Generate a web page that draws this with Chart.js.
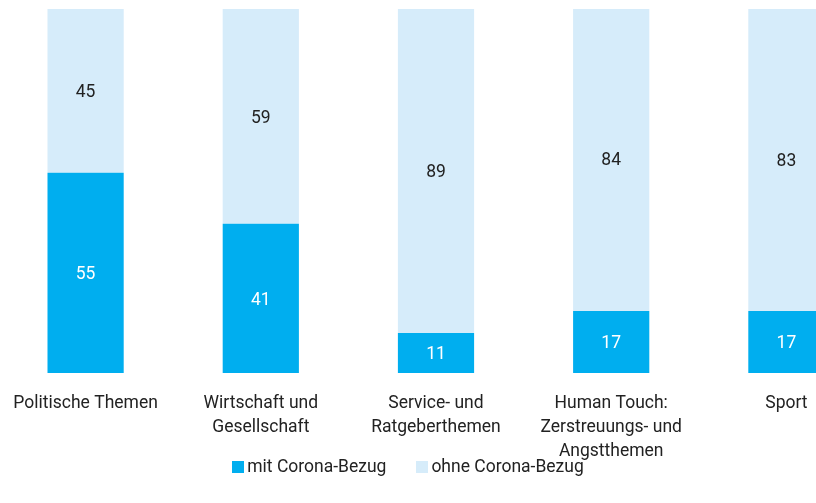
<!DOCTYPE html>
<html>
<head>
<meta charset="utf-8">
<script src="https://cdn.jsdelivr.net/npm/chart.js@4"></script>
<style>
  html, body { margin: 0; padding: 0; background: #fff; overflow: hidden; }
  body { width: 816px; height: 503px; position: relative; }
  #wrap { position: absolute; left: -2px; top: 0; width: 876px; height: 503px; }
  #legend { position: absolute; top: 456px; left: 0; width: 816px; text-align: center;
            font-family: Roboto, sans-serif; font-size: 17.5px; color: #222; }
  #legend span.item { display: inline-block; margin: 0 15px; }
  #legend span.box { display: inline-block; width: 12px; height: 12px; margin-right: 3px; vertical-align: -1px; }
</style>
</head>
<body>
<div id="wrap"><canvas id="myChart"></canvas></div>
<div id="legend"></div>
<script>
const categories = [
    ['Politische Themen'],
    ['Wirtschaft und', 'Gesellschaft'],
    ['Service- und', 'Ratgeberthemen'],
    ['Human Touch:', 'Zerstreuungs- und', 'Angstthemen'],
    ['Sport']
];
const mitCorona = [55, 41, 11, 17, 17];
const ohneCorona = [45, 59, 89, 84, 83];
const seriesNames = ['mit Corona-Bezug', 'ohne Corona-Bezug'];
const colors = ['rgb(0, 174, 239)', 'rgb(214, 236, 250)'];
const textColors = ['#ffffff', '#222222'];

const ctx = document.getElementById('myChart');

// Werte in die Balken schreiben
const valueLabels = {
    id: 'valueLabels',
    afterDatasetsDraw(chart) {
        const c = chart.ctx;
        c.save();
        c.font = '17.5px Roboto, sans-serif';
        c.textAlign = 'center';
        c.textBaseline = 'middle';
        chart.data.datasets.forEach((ds, i) => {
            chart.getDatasetMeta(i).data.forEach((bar, j) => {
                const p = bar.getProps(['x', 'y', 'base'], true);
                c.fillStyle = textColors[i];
                c.fillText(ds.data[j], p.x, (p.y + p.base) / 2 + 2);
            });
        });
        c.restore();
    }
};

new Chart(ctx, {
    type: 'bar',
    data: {
        labels: categories,
        datasets: [{
            label: seriesNames[0],
            data: mitCorona,
            backgroundColor: colors[0],
            barPercentage: 0.87,
            categoryPercentage: 0.5
        }, {
            label: seriesNames[1],
            data: ohneCorona,
            backgroundColor: colors[1],
            barPercentage: 0.87,
            categoryPercentage: 0.5
        }]
    },
    options: {
        responsive: true,
        maintainAspectRatio: false,
        animation: false,
        layout: { padding: { top: 9, left: 0, right: 0, bottom: 0 } },
        plugins: {
            legend: { display: false },
            tooltip: { enabled: false }
        },
        scales: {
            x: {
                stacked: true,
                grid: { display: false },
                border: { display: false },
                ticks: {
                    maxRotation: 0,
                    autoSkip: false,
                    padding: 11,
                    color: '#222',
                    font: { family: 'Roboto, sans-serif', size: 17.5, lineHeight: '24px' }
                },
                afterFit: (s) => { s.height = 130; }
            },
            y: {
                stacked: true,
                display: false,
                min: 0,
                max: 100
            }
        }
    },
    plugins: [valueLabels]
});

const legend = document.getElementById('legend');
seriesNames.forEach((name, i) => {
    const item = document.createElement('span');
    item.className = 'item';
    const box = document.createElement('span');
    box.className = 'box';
    box.style.background = colors[i];
    item.appendChild(box);
    item.appendChild(document.createTextNode(name));
    legend.appendChild(item);
});
</script>
</body>
</html>
